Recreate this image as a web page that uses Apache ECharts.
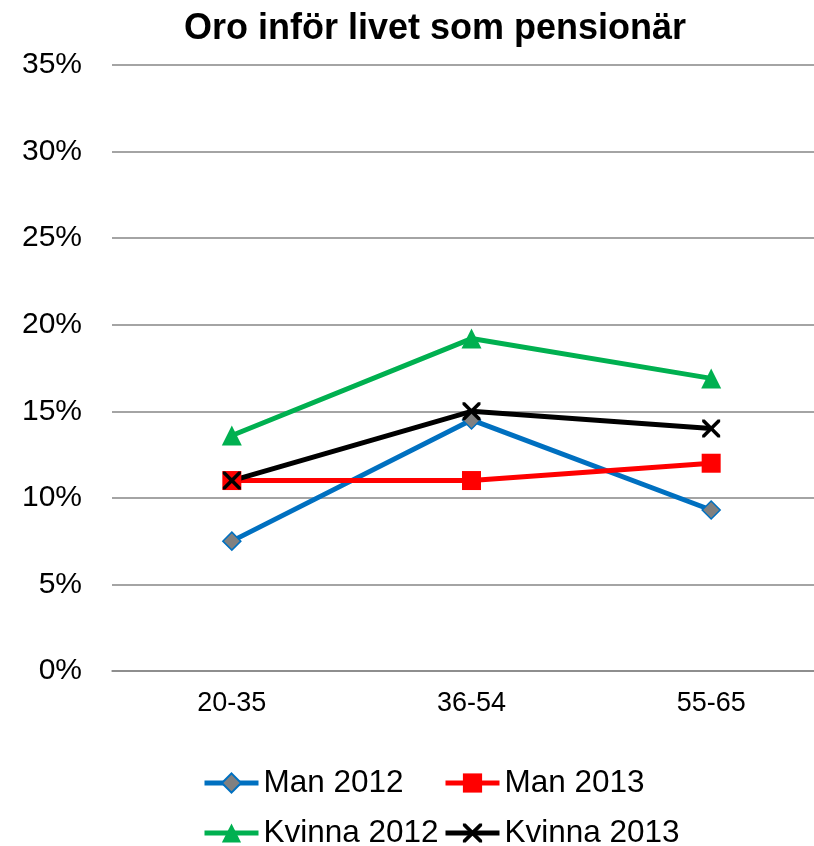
<!DOCTYPE html>
<html>
<head>
<meta charset="utf-8">
<script src="https://cdn.jsdelivr.net/npm/echarts@6/dist/echarts.min.js"></script>
<style>
  html, body { margin: 0; padding: 0; background: #fff; overflow: hidden; }
  #chart { width: 831px; height: 846px; }
</style>
</head>
<body>
<div id="chart"></div>
<script>
let chart = echarts.init(document.getElementById('chart'));

const title = 'Oro inför livet som pensionär';
const categories = ['20-35', '36-54', '55-65'];
const seriesNames = ['Man 2012', 'Man 2013', 'Kvinna 2012', 'Kvinna 2013'];
const man2012 = [7.5, 14.5, 9.3];
const man2013 = [11, 11, 12];
const kvinna2012 = [13.6, 19.2, 16.9];
const kvinna2013 = [11, 15, 14];
const yTicks = [0, 5, 10, 15, 20, 25, 30, 35];

const font = 'Liberation Sans, Arial, sans-serif';
// kryss-symbol som fylld polygon
const crossPath = 'path://M0,0L1.4,0L5,3.6L8.6,0L10,0L10,1.4L6.4,5L10,8.6L10,10L8.6,10L5,6.4L1.4,10L0,10L0,8.6L3.6,5L0,1.4Z';

function lineSeries(name, data, color, symbol, size, fill, border) {
    return {
        name: name,
        type: 'line',
        data: data,
        symbol: symbol,
        symbolSize: size,
        showAllSymbol: true,
        lineStyle: { color: color, width: 5 },
        itemStyle: { color: fill, borderColor: border, borderWidth: border ? 1.5 : 0 },
        emphasis: { disabled: true },
        z: 2
    };
}

function legendAt(name, left, top) {
    return {
        data: [name],
        left: left,
        top: top,
        itemWidth: 54,
        itemHeight: 24,
        lineStyle: { width: 5 },
        textStyle: { fontFamily: font, fontSize: 31.5, color: '#000' },
        selectedMode: false
    };
}

chart.setOption({
    animation: false,
    title: {
        text: title,
        left: 430,
        textAlign: 'center',
        top: 6,
        textStyle: { fontFamily: font, fontSize: 36, fontWeight: 'bold', color: '#000' }
    },
    legend: [
        legendAt(seriesNames[0], 197, 762),
        legendAt(seriesNames[1], 438, 762),
        legendAt(seriesNames[2], 197, 812),
        legendAt(seriesNames[3], 438, 812)
    ],
    grid: { left: 112, top: 65, right: 0, height: 606, containLabel: false },
    xAxis: {
        type: 'category',
        data: categories,
        boundaryGap: true,
        axisLine: { lineStyle: { color: '#868686', width: 1.5 } },
        axisTick: { show: false },
        axisLabel: { fontFamily: font, fontSize: 27, color: '#000', margin: 19 }
    },
    yAxis: {
        type: 'value',
        min: yTicks[0],
        max: yTicks[yTicks.length - 1],
        interval: 5,
        axisLine: { show: false },
        axisTick: { show: false },
        splitLine: { lineStyle: { color: '#868686', width: 1.5 } },
        axisLabel: { fontFamily: font, fontSize: 30, color: '#000', margin: 30, formatter: v => v + '%' }
    },
    series: [
        lineSeries(seriesNames[0], man2012, '#0070C0', 'diamond', 18, '#808080', '#0070C0'),
        lineSeries(seriesNames[1], man2013, '#FF0000', 'rect', 19, '#FF0000', null),
        lineSeries(seriesNames[2], kvinna2012, '#00B050', 'triangle', 20, '#00B050', null),
        lineSeries(seriesNames[3], kvinna2013, '#000000', crossPath, 18, '#000000', null)
    ]
});
</script>
</body>
</html>
